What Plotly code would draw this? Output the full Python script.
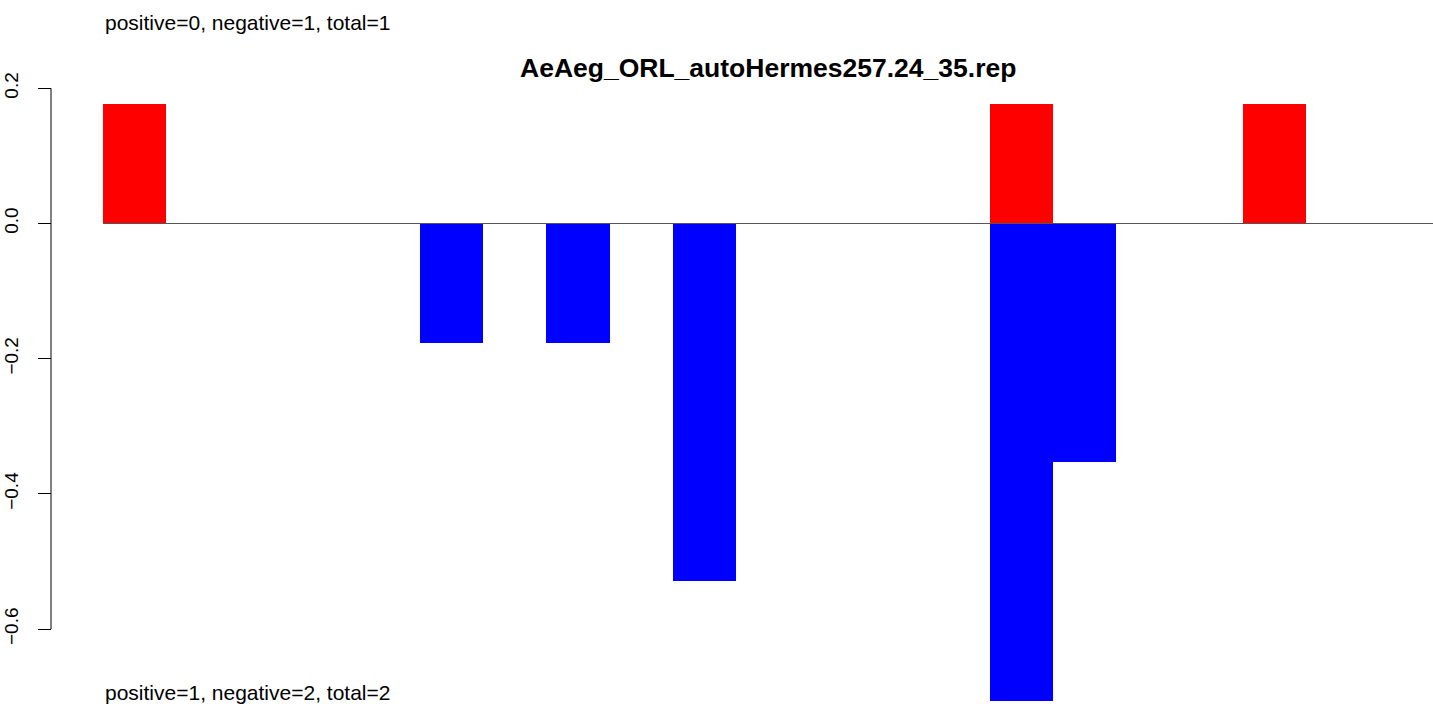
import plotly.graph_objects as go

# ==========================
# DADOS
# ==========================
titulo = "AeAeg_ORL_autoHermes257.24_35.rep"
texto_topo = "positive=0, negative=1, total=1"
texto_base = "positive=1, negative=2, total=2"

n_posicoes = 21
pos_x = [0, 14, 18]
pos_y = [0.1765, 0.1765, 0.1765]
neg_x = [5, 7, 9, 14, 15]
neg_y = [-0.1765, -0.1765, -0.5294, -0.7059, -0.3529]
y_ticks = [-0.6, -0.4, -0.2, 0.0, 0.2]
y_labels = ["\u22120.6", "\u22120.4", "\u22120.2", "0.0", "0.2"]

# ==========================
# LAYOUT (pixels)
# ==========================
W, H = 1433, 707
m_top, m_bot = 40, 0
plot_left = 103
eixo_y_px = 51
px_por_unid = 676.0
zero_px = 223.5
y_max = (zero_px - m_top) / px_por_unid
y_min = -(H - m_bot - zero_px) / px_por_unid
alt_plot = H - m_top - m_bot

def py(pix):
    return (H - m_bot - pix) / alt_plot

fig = go.Figure()

fig.add_trace(go.Bar(x=pos_x, y=pos_y, width=1, marker=dict(color="#FF0000", line=dict(width=0)),
                     showlegend=False, hoverinfo="skip"))
fig.add_trace(go.Bar(x=neg_x, y=neg_y, width=1, marker=dict(color="#0000FF", line=dict(width=0)),
                     showlegend=False, hoverinfo="skip"))

# linha do zero
fig.add_shape(type="line", xref="x", yref="y", x0=-0.5, x1=n_posicoes - 0.5, y0=0, y1=0,
              line=dict(color="#555555", width=1))
# linha do eixo y (apenas entre os ticks)
fig.add_shape(type="line", xref="paper", yref="y", x0=eixo_y_px / W, x1=eixo_y_px / W,
              y0=min(y_ticks), y1=max(y_ticks), line=dict(color="black", width=1))

fig.add_annotation(text=texto_topo, xref="paper", yref="paper", x=plot_left / W, y=py(22),
                   xanchor="left", yanchor="middle", showarrow=False,
                   font=dict(size=21, color="black"))
fig.add_annotation(text=texto_base, xref="paper", yref="paper", x=plot_left / W, y=py(692),
                   xanchor="left", yanchor="middle", showarrow=False,
                   font=dict(size=21, color="black"))
fig.add_annotation(text="<b>" + titulo + "</b>", xref="paper", yref="paper",
                   x=(plot_left + W) / 2 / W, y=py(68), xanchor="center", yanchor="middle",
                   showarrow=False, font=dict(size=26.5, color="black"))

fig.update_layout(
    template="none",
    width=W, height=H,
    margin=dict(l=0, r=0, t=m_top, b=m_bot, pad=0),
    paper_bgcolor="white", plot_bgcolor="white",
    font=dict(family="Liberation Sans, Arial", color="black"),
    barmode="overlay",
    bargap=0,
)

fig.update_xaxes(domain=[plot_left / W, 1], range=[-0.5, n_posicoes - 0.5], visible=False,
                 automargin=False)
fig.update_yaxes(range=[y_min, y_max], anchor="free", position=eixo_y_px / W,
                 showline=False, showgrid=False, zeroline=False,
                 tickmode="array", tickvals=y_ticks, ticktext=y_labels,
                 ticks="outside", ticklen=13, tickwidth=1, tickcolor="black",
                 tickangle=-90, tickfont=dict(size=19, color="black"),
                 ticklabelstandoff=12, automargin=False)

# remove a margem padrão do body para a figura começar em (0,0)
fig.write_html("out.html", config={"displayModeBar": False},
               post_script="document.body.style.margin='0';")
